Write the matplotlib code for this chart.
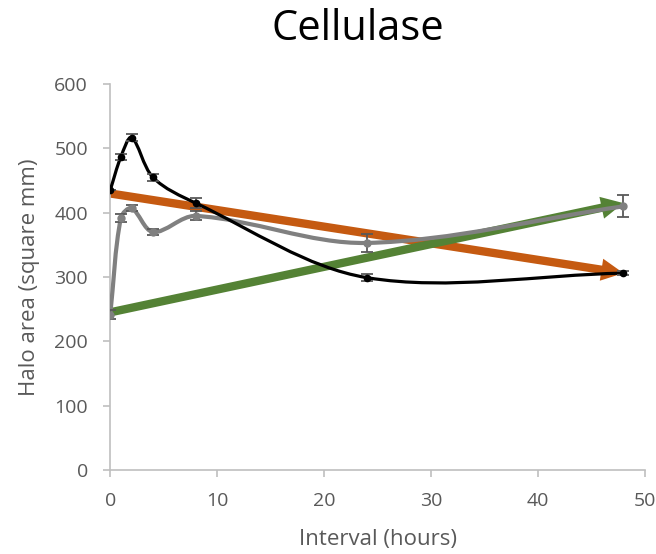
import numpy as np
import matplotlib.pyplot as plt
from matplotlib.path import Path
from matplotlib.patches import PathPatch, FancyArrowPatch

plt.rcParams['font.family'] = ['Open Sans', 'DejaVu Sans']

hours = [0, 1, 2, 4, 8, 24, 48]
black = [435, 487, 517, 455, 415, 299, 306]
black_err = [0, 5, 6, 6, 8, 5, 3]
gray = [241, 392, 407, 370, 395, 353, 410]
gray_err = [7, 6, 5, 5, 7, 14, 17]

# trendline end points (x0, y0, x1, y1)
orange_trend = [0, 430, 48, 306]
green_trend = [0, 245, 48, 415]


def smooth_path(ax, x, y):
    # smoothed line like Excel, worked out in screen space, then back to data
    pts = ax.transData.transform(np.column_stack([x, y]))
    p = np.vstack([pts[0], pts, pts[-1]])
    verts = [pts[0]]
    codes = [Path.MOVETO]
    for i in range(1, len(p) - 2):
        p0, p1, p2, p3 = p[i - 1], p[i], p[i + 1], p[i + 2]
        d01 = np.hypot(*(p1 - p0))
        d12 = np.hypot(*(p2 - p1))
        d23 = np.hypot(*(p3 - p2))
        f1 = d12 / (d01 + d12) / 3 if d01 + d12 > 0 else 0
        f2 = d12 / (d12 + d23) / 3 if d12 + d23 > 0 else 0
        c1 = p1 + (p2 - p0) * f1
        c2 = p2 - (p3 - p1) * f2
        verts += [c1, c2, p2]
        codes += [Path.CURVE4] * 3
    verts = ax.transData.inverted().transform(np.array(verts))
    return Path(verts, codes)


fig = plt.figure(figsize=(6.56, 5.54), dpi=100)
ax = fig.add_axes([0.168, 0.152, 0.815, 0.696])
ax.set_xlim(0, 50)
ax.set_ylim(0, 600)

for tr, col in [(orange_trend, '#c55a11'), (green_trend, '#548235')]:
    ax.add_patch(FancyArrowPatch((tr[0], tr[1]), (tr[2], tr[3]),
                                 arrowstyle='simple,head_length=16,head_width=16,tail_width=6',
                                 mutation_scale=1, color=col, lw=0, shrinkA=0, shrinkB=0, zorder=2))

ax.add_patch(PathPatch(smooth_path(ax, hours, gray), fill=False, ec='#808080', lw=3, zorder=3))
ax.errorbar(hours, gray, yerr=gray_err, fmt='o', color='#808080', ms=5,
            ecolor='#595959', elinewidth=1.3, capsize=4, capthick=1.3, zorder=4)

ax.add_patch(PathPatch(smooth_path(ax, hours, black), fill=False, ec='black', lw=2.3, zorder=5))
ax.errorbar(hours, black, yerr=black_err, fmt='o', color='black', ms=4.5,
            ecolor='#595959', elinewidth=1.3, capsize=4, capthick=1.3, zorder=6)

ax.set_xticks(range(0, 51, 10))
ax.set_yticks(range(0, 601, 100))
for s in ['top', 'right']:
    ax.spines[s].set_visible(False)
for s in ['left', 'bottom']:
    ax.spines[s].set_color('#bfbfbf')
    ax.spines[s].set_linewidth(1.2)
ax.tick_params(colors='#595959', labelsize=14, length=5, width=1.2)
ax.tick_params(axis='both', color='#bfbfbf')
ax.tick_params(axis='x', pad=11)
ax.tick_params(axis='y', pad=11)
ax.set_xlabel('Interval (hours)', fontsize=16, color='#595959', labelpad=14)
ax.set_ylabel('Halo area (square mm)', fontsize=16, color='#595959', labelpad=10)
fig.text(0.546, 0.928, 'Cellulase', fontsize=30, ha='center', va='baseline')

fig.savefig('out.png', dpi=100)
